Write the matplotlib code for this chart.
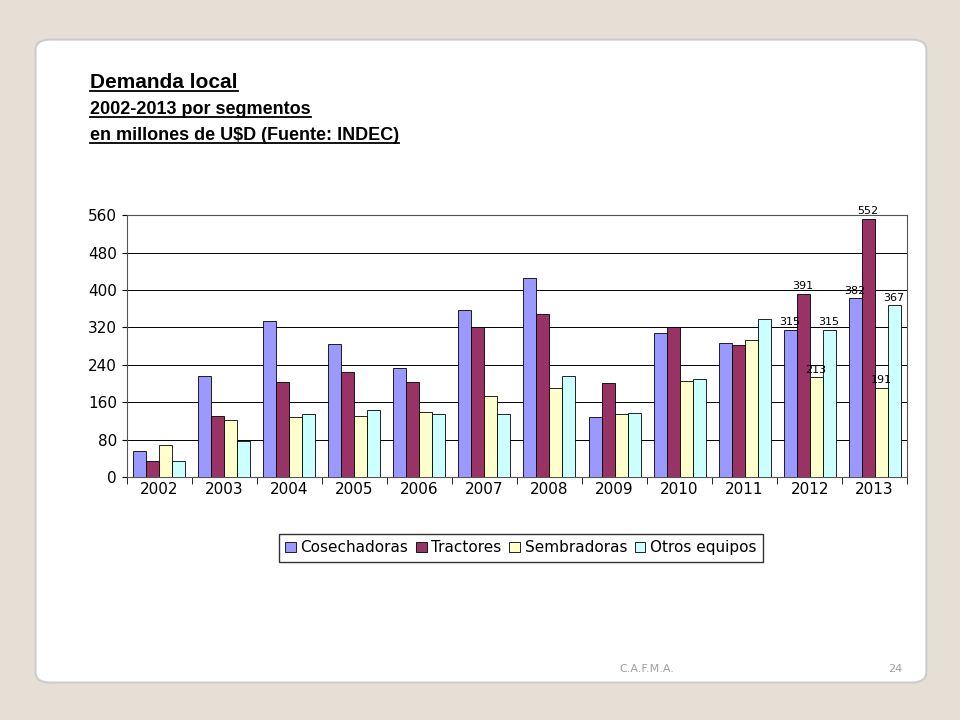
import matplotlib
matplotlib.use("Agg")
import matplotlib.pyplot as plt
from matplotlib.patches import FancyBboxPatch
from matplotlib.lines import Line2D
import numpy as np

years = ["2002","2003","2004","2005","2006","2007","2008","2009","2010","2011","2012","2013"]
cosechadoras = [56,216,333,284,233,357,425,128,308,286,315,382]
tractores = [34,130,203,224,203,320,348,201,320,282,391,552]
sembradoras = [68,122,128,130,139,173,190,135,205,293,213,191]
otros = [34,77,135,143,135,135,216,137,209,338,315,367]
series_names = ["Cosechadoras","Tractores","Sembradoras","Otros equipos"]
colors = ["#9999FF","#993366","#FFFFCC","#CCFFFF"]
yticks = [0,80,160,240,320,400,480,560]

fig = plt.figure(figsize=(9.6,7.2), dpi=100)
fig.patch.set_facecolor("#E6DFD5")
card = FancyBboxPatch((0.037,0.052),0.928,0.893, boxstyle="round,pad=0,rounding_size=0.015",
                      transform=fig.transFigure, facecolor="white", edgecolor="#CCCCCC", lw=1.5, zorder=-10)
fig.patches.append(card)

titles = [("Demanda local", 0.878, 15), ("2002-2013 por segmentos", 0.842, 13),
          ("en millones de U$D (Fuente: INDEC)", 0.805, 13)]
r = fig.canvas.get_renderer()
for s, y, fs in titles:
    t = fig.text(0.094, y, s, fontsize=fs, fontweight="bold", family="Liberation Sans")
    bb = t.get_window_extent(r).transformed(fig.transFigure.inverted())
    fig.add_artist(Line2D([bb.x0, bb.x1], [y - 0.004, y - 0.004], color="black", lw=1.3,
                          transform=fig.transFigure))
fig.text(0.645,0.067,"C.A.F.M.A.", fontsize=8, color="#A0A0A0")
fig.text(0.94,0.067,"24", fontsize=8, color="#A0A0A0", ha="right")

ax = fig.add_axes([0.132,0.3375,0.813,0.3635])
x = np.arange(len(years))
w = 0.2
data = [cosechadoras, tractores, sembradoras, otros]
for i,(vals,c,n) in enumerate(zip(data,colors,series_names)):
    ax.bar(x+(i-1.5)*w, vals, w, color=c, edgecolor="black", linewidth=0.6, label=n, zorder=3)
for i,vals in enumerate(data):
    for j in (10,11):
        ax.text(x[j]+(i-1.5)*w, vals[j]+6, str(vals[j]), ha="center", va="bottom", fontsize=8, zorder=4)
ax.set_xlim(-0.5,len(years)-0.5)
ax.set_ylim(0,560)
ax.set_yticks(yticks)
ax.set_xticks(x)
ax.set_xticklabels(years)
ax.tick_params(labelsize=11)
ax.set_xticks(np.arange(len(years)+1)-0.5, minor=True)
ax.tick_params(axis="x", which="major", length=0)
ax.tick_params(axis="x", which="minor", length=5)
ax.grid(axis="y", color="black", lw=0.7, zorder=0)
for s in ax.spines.values():
    s.set_color("#555555")
ax.legend(loc="upper center", bbox_to_anchor=(0.505,-0.19), ncol=4, frameon=True, fancybox=False,
          edgecolor="black", fontsize=11, handlelength=0.7, handletextpad=0.3, columnspacing=0.5,
          borderpad=0.4)
fig.savefig("out.png", dpi=100, facecolor=fig.get_facecolor())
